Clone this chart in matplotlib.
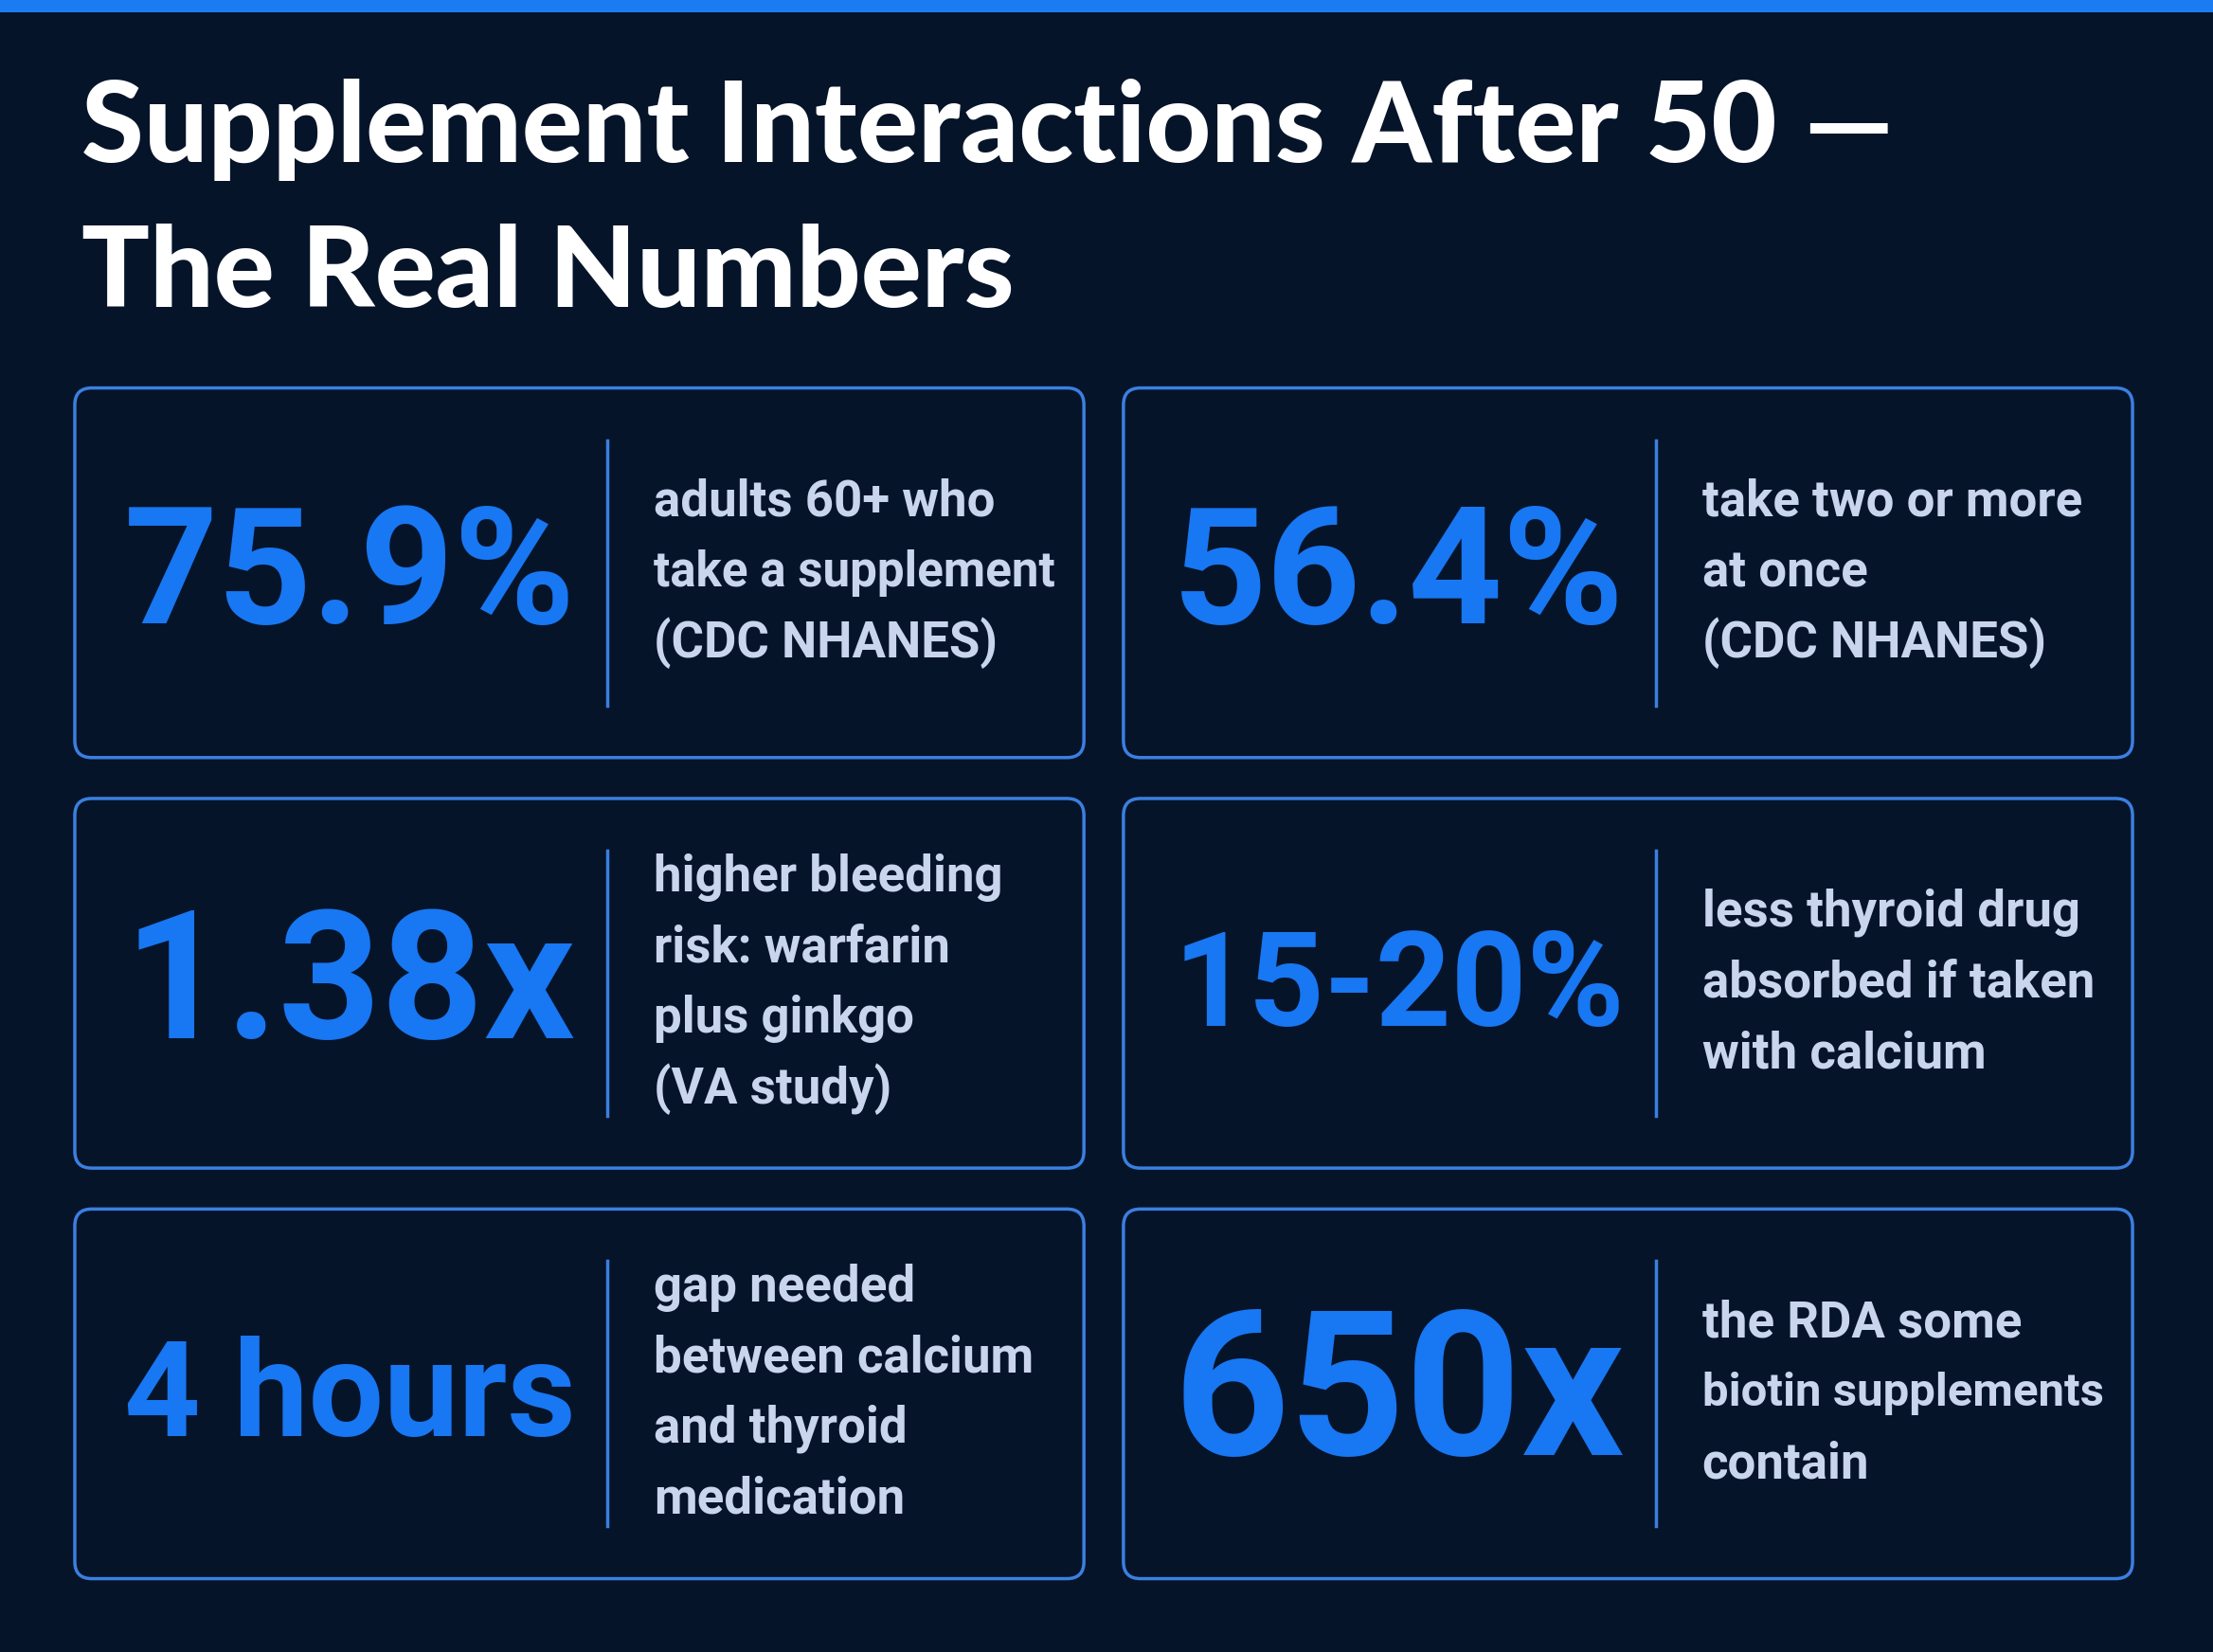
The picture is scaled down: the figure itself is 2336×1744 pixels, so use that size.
import matplotlib.pyplot as plt
from matplotlib.patches import FancyBboxPatch, Rectangle

BG = "#06142a"
BLUE = "#1877f2"
BORDER = "#3b7fe0"
TXT = "#c9d5ec"

title_lines = ["Supplement Interactions After 50 \u2014", "The Real Numbers"]
stats = ["75.9%", "56.4%", "1.38x", "15-20%", "4 hours", "650x"]
notes = [
    ["adults 60+ who", "take a supplement", "(CDC NHANES)"],
    ["take two or more", "at once", "(CDC NHANES)"],
    ["higher bleeding", "risk: warfarin", "plus ginkgo", "(VA study)"],
    ["less thyroid drug", "absorbed if taken", "with calcium"],
    ["gap needed", "between calcium", "and thyroid", "medication"],
    ["the RDA some", "biotin supplements", "contain"],
]

fig = plt.figure(figsize=(23.36, 17.44), dpi=100, facecolor=BG)
ax = fig.add_axes([0, 0, 1, 1])
ax.set_xlim(0, 1568)
ax.set_ylim(1171, 0)
ax.axis("off")
ax.set_facecolor(BG)
renderer = fig.canvas.get_renderer()
SCALE = 1568 / 2336


def fit(t, max_w):
    # shrink a text until its width (in layout units) fits max_w
    w = t.get_window_extent(renderer).width * SCALE
    if w > max_w:
        t.set_fontsize(t.get_fontsize() * max_w / w)


ax.add_patch(Rectangle((0, 0), 1568, 9, color="#1a7cf0", lw=0))

for i, line in enumerate(title_lines):
    ax.text(58, 92 + i * 103, line, fontsize=86, fontweight=900, color="white",
            family="Lato", va="center", ha="left")

col_x = [53, 796]
row_y = [275, 566, 857]
w, h = 715, 262
for k in range(6):
    x0 = col_x[k % 2]
    y0 = row_y[k // 2]
    ax.add_patch(FancyBboxPatch((x0, y0), w, h, boxstyle="round,pad=0,rounding_size=12",
                                fc=BG, ec=BORDER, lw=2.5))
    ax.plot([x0 + 377, x0 + 377], [y0 + 37, y0 + 225], color=BORDER, lw=2.5)
    t = ax.text(x0 + 195, y0 + h / 2 + 4, stats[k], fontsize=155, fontweight="bold",
                color=BLUE, family="Roboto", ha="center", va="center")
    fit(t, 320)
    lines = notes[k]
    n = len(lines)
    for j, s in enumerate(lines):
        yy = y0 + h / 2 + (j - (n - 1) / 2) * 50
        t = ax.text(x0 + 410, yy, s, fontsize=38, fontweight="bold", color=TXT,
                    family="Roboto", ha="left", va="center")
        fit(t, 285)

fig.savefig("out.png", dpi=100, facecolor=BG)
